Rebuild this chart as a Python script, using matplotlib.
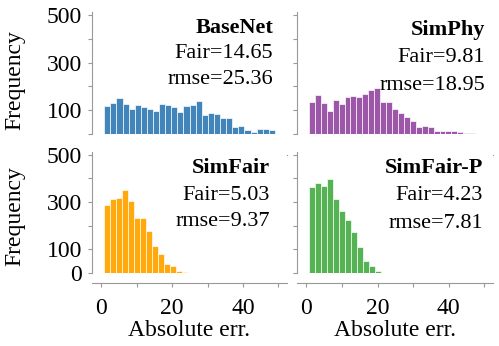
import numpy as np
import matplotlib
matplotlib.use("Agg")
from matplotlib import pyplot as plt

plt.rcParams['font.family'] = ['Liberation Serif', 'DejaVu Serif']
plt.rcParams['font.size'] = 17

#=================+
# histogram data  |
#=================+
names = ['BaseNet', 'SimPhy', 'SimFair', 'SimFair-P']
fair = ['14.65', '9.81', '5.03', '4.23']
rmse = ['25.36', '18.95', '9.37', '7.81']
colors = ['#377eb8', '#984ea3', '#ffa500', '#4daf4a']

# bin ranges (lo, hi) and counts per bin
baseRange = (0.85, 49.0)
baseCounts = [118, 132, 150, 127, 105, 122, 113, 105, 98, 127, 120, 113, 92, 118,
              122, 137, 78, 87, 85, 66, 66, 29, 34, 17, 10, 22, 22, 17]
simPhyRange = (0.73, 47.4)
simPhyCounts = [136, 162, 129, 98, 141, 126, 154, 160, 157, 168, 185, 192, 136, 134,
                105, 87, 73, 55, 28, 34, 28, 14, 11, 11, 11, 7, 6, 3]
simFairRange = (0.85, 24.5)
simFairCounts = [286, 312, 319, 353, 306, 231, 231, 178, 113, 82, 39, 28, 7, 3]
simFairPRange = (0.73, 21.0)
simFairPCounts = [362, 382, 368, 396, 314, 262, 223, 173, 110, 51, 28, 8]

ranges = [baseRange, simPhyRange, simFairRange, simFairPRange]
counts = [baseCounts, simPhyCounts, simFairCounts, simFairPCounts]

yticks = [0, 100, 200, 300, 400, 500]
xticks = [0, 10, 20, 30, 40, 50]

#================+
# Graph Plotting |
#================+
W, H = 499, 346
fig = plt.figure(figsize=(W / 100, H / 100), dpi=100)

# axes boxes in pixels: left, right, top, bottom
boxes = [(92, 287, 12, 134), (297, 493, 12, 134),
         (92, 287, 152, 273), (297, 493, 152, 273)]
# text right edge and line centres in pixels
textPos = [(273, 28, 53, 80), (485, 30, 57, 85),
           (270, 168, 195, 222), (483, 168, 195, 223)]

for i in range(4):
    l, r, t, b = boxes[i]
    ax = fig.add_axes([l / W, 1 - b / H, (r - l) / W, (b - t) / H])
    lo, hi = ranges[i]
    edges = np.linspace(lo, hi, len(counts[i]) + 1)
    centers = (edges[:-1] + edges[1:]) / 2
    ax.hist(centers, bins=edges, weights=counts[i], color=colors[i],
            edgecolor='white', linewidth=0.5, alpha=0.95)
    ax.set_xlim(-2.6, 52.4)
    ax.set_ylim(0, 512)
    for s in ['top', 'right']:
        ax.spines[s].set_visible(False)
    for s in ['left', 'bottom']:
        ax.spines[s].set_color('#999999')
        ax.spines[s].set_linewidth(0.8)
    ax.spines['bottom'].set_position(('outward', 15 if i < 2 else 7))
    ax.set_xticks(xticks)
    ax.set_yticks(yticks)
    ax.tick_params(colors='#999999', labelcolor='black', length=3, width=0.8)
    ax.tick_params(axis='x', pad=8)
    ax.tick_params(axis='y', pad=4)
    if i % 2 == 0:
        if i == 0:
            ax.set_yticklabels(['', '100', '', '300', '', '500'])
        else:
            ax.set_yticklabels(['0', '100', '', '300', '', '500'])
    else:
        ax.set_yticklabels([])
    if i >= 2:
        ax.set_xticklabels(['0', '', '20', '', '40', ''])
    else:
        ax.set_xticklabels([])

    x, y1, y2, y3 = textPos[i]
    fig.text(x / W, 1 - y1 / H, names[i], ha='right', va='center',
             fontweight='bold', fontsize=16)
    fig.text(x / W, 1 - y2 / H, 'Fair=' + fair[i], ha='right', va='center', fontsize=16)
    fig.text(x / W, 1 - y3 / H, 'rmse=' + rmse[i], ha='right', va='center', fontsize=16)

fig.text(15 / W, 1 - 80 / H, 'Frequency', rotation=90, ha='center', va='center')
fig.text(15 / W, 1 - 216 / H, 'Frequency', rotation=90, ha='center', va='center')
fig.text(189.5 / W, 1 - 330 / H, 'Absolute err.', ha='center', va='center')
fig.text(395 / W, 1 - 330 / H, 'Absolute err.', ha='center', va='center')

plt.savefig('out.png', dpi=100)
